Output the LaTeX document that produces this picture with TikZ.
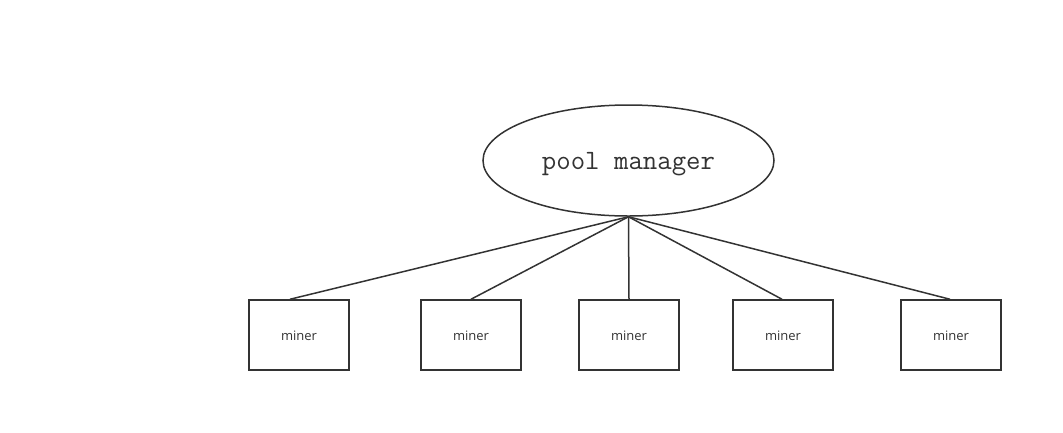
\documentclass[tikz,border=0pt]{standalone}
\usepackage{fontspec}
\setmainfont{Open Sans}
\usetikzlibrary{shapes.geometric}
\definecolor{ink}{HTML}{333333}
\tikzset{
  box/.style={draw=ink, line width=1.5pt, minimum width=100pt, minimum height=70pt, inner sep=0pt, font=\fontsize{13}{15}\selectfont, text=ink},
  pool/.style={draw=ink, line width=1.5pt, ellipse, minimum width=291pt, minimum height=111pt, inner sep=0pt, font=\ttfamily\fontsize{28}{30}\selectfont, text=ink},
  link/.style={draw=ink, line width=1.5pt}
}
\begin{document}
\begin{tikzpicture}[x=1pt,y=-1pt]
\useasboundingbox (0,0) rectangle (1063,432);
\node[pool] (pm) at (628.5,160.5) {\raisebox{-3.5pt}[\height][\depth]{pool manager}};
\node[box] (m1) at (299,335) {\raisebox{-1pt}[\height][\depth]{miner}};
\node[box] (m2) at (471,335) {\raisebox{-1pt}[\height][\depth]{miner}};
\node[box] (m3) at (629,335) {\raisebox{-1pt}[\height][\depth]{miner}};
\node[box] (m4) at (783,335) {\raisebox{-1pt}[\height][\depth]{miner}};
\node[box] (m5) at (951,335) {\raisebox{-1pt}[\height][\depth]{miner}};
\draw[link] (pm.south) -- ([xshift=-9pt]m1.north);
\draw[link] (pm.south) -- (m2.north);
\draw[link] (pm.south) -- (m3.north);
\draw[link] (pm.south) -- ([xshift=-1pt]m4.north);
\draw[link] (pm.south) -- ([xshift=-1pt]m5.north);
\end{tikzpicture}
\end{document}
